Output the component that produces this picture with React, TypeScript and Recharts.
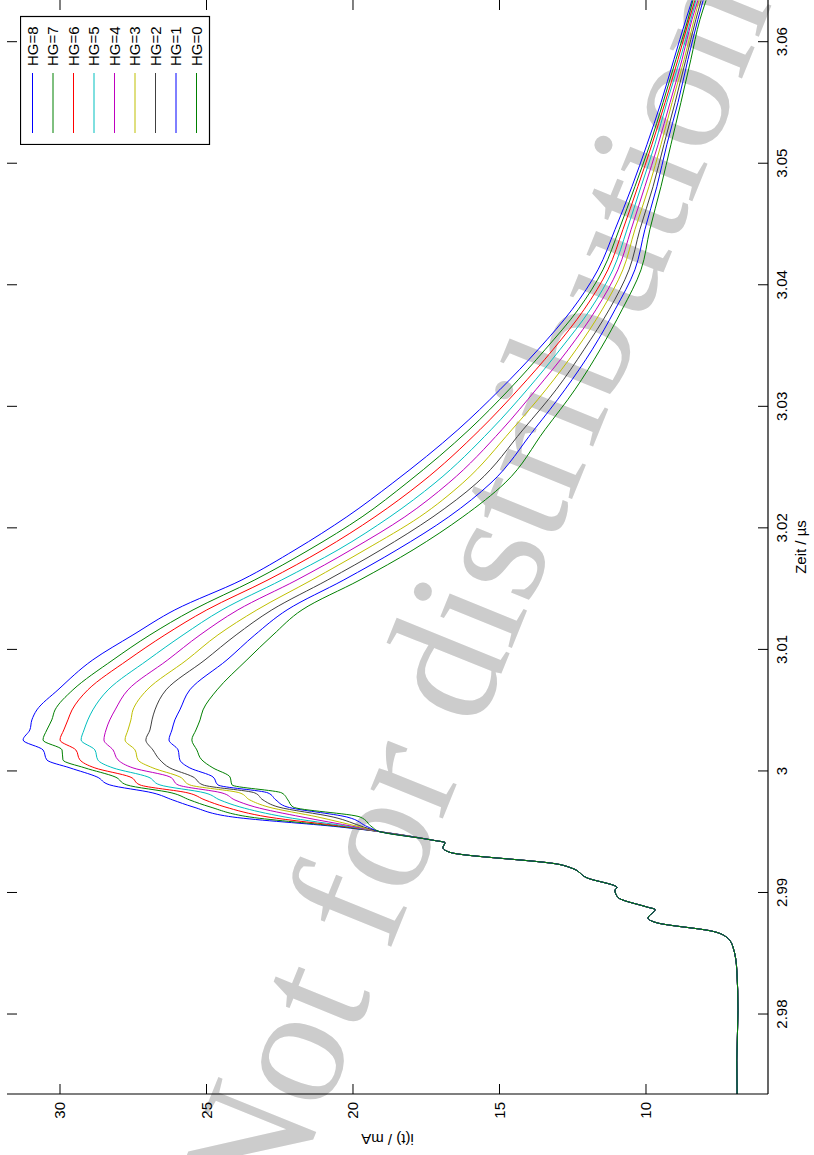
import React from "react";
import { LineChart, Line, XAxis, YAxis, Legend, Label } from "recharts";

// the plot is drawn landscape and then turned a quarter turn, like the printed page
const W = 1155;
const H = 814;
const PLOT_TOP = 7;
const FONT = "'Liberation Sans', Arial, Helvetica, sans-serif";

const TIME_DOMAIN: [number, number] = [2.97342, 3.06343];
const CURRENT_DOMAIN: [number, number] = [5.836, 31.809];
const TIME_TICKS = [2.98, 2.99, 3.0, 3.01, 3.02, 3.03, 3.04, 3.05, 3.06];
const CURRENT_TICKS = [10, 15, 20, 25, 30];

// common part before the curves split (µs, mA)
const leadTime = [
  2.9734, 2.9762, 2.9803, 2.9836, 2.9855, 2.9863, 2.9868, 2.9875, 2.9879, 2.9886, 2.9888,
  2.9896, 2.9902, 2.9904, 2.9912, 2.992, 2.9923, 2.9933, 2.9937, 2.9941, 2.9943, 2.995,
];
const leadCurrent = [
  6.89, 6.9, 6.86, 6.9, 7.03, 7.24, 7.71, 9.62, 9.93, 9.69, 9.96,
  10.96, 11.06, 10.99, 12.01, 12.53, 12.94, 16.69, 16.93, 16.86, 17.27, 19.08,
];

// after the split
const time = [
  2.99539, 2.99621, 2.99704, 2.99761, 2.99819, 2.99885, 2.99951, 3.00025, 3.00091, 3.00173,
  3.00255, 3.00337, 3.0042, 3.00502, 3.00667, 3.00914, 3.01119, 3.01325, 3.01572, 3.01819,
  3.02091, 3.0237, 3.02807, 3.03136, 3.03465, 3.03794, 3.04123, 3.04453, 3.04807, 3.05152,
  3.05498, 3.05852, 3.06181, 3.0634,
];
const hg8 = [20.45, 24.1, 25.46, 26.15, 26.83, 28.3, 28.74, 29.66, 30.45, 30.58, 31.26, 31.03, 30.96, 30.79, 30.07, 28.88, 27.51, 26.08, 23.79, 21.98, 20.21, 18.64, 16.42, 14.99, 13.69, 12.53, 11.64, 11.06, 10.48, 9.97, 9.49, 9.05, 8.64, 8.43];
const hg7 = [20.31, 23.52, 24.88, 25.57, 26.18, 27.72, 28.12, 29.15, 29.9, 29.93, 30.58, 30.45, 30.28, 30.17, 29.56, 28.19, 26.93, 25.46, 23.35, 21.5, 19.69, 18.16, 16.04, 14.68, 13.45, 12.32, 11.47, 10.92, 10.38, 9.87, 9.42, 8.98, 8.57, 8.4];
const hg6 = [20.17, 22.9, 24.37, 25.05, 25.63, 27.27, 27.61, 28.81, 29.32, 29.46, 30.0, 29.87, 29.73, 29.59, 29.05, 27.68, 26.42, 24.99, 22.9, 21.03, 19.25, 17.68, 15.67, 14.37, 13.18, 12.12, 11.3, 10.79, 10.28, 9.8, 9.35, 8.91, 8.53, 8.33];
const hg5 = [20.04, 22.32, 23.86, 24.54, 25.05, 26.59, 27.0, 28.19, 28.71, 28.81, 29.28, 29.18, 29.05, 28.88, 28.36, 27.0, 25.8, 24.47, 22.43, 20.51, 18.74, 17.2, 15.29, 14.06, 12.94, 11.91, 11.13, 10.65, 10.17, 9.7, 9.29, 8.84, 8.47, 8.3];
const hg4 = [19.9, 21.74, 23.35, 24.03, 24.47, 25.97, 26.25, 27.51, 28.02, 28.19, 28.5, 28.43, 28.3, 28.12, 27.68, 26.32, 25.22, 23.93, 21.91, 20.07, 18.23, 16.73, 14.92, 13.76, 12.66, 11.71, 10.96, 10.51, 10.04, 9.59, 9.18, 8.77, 8.43, 8.23];
const hg3 = [19.76, 21.2, 22.9, 23.52, 23.86, 25.57, 25.91, 26.83, 27.34, 27.44, 27.78, 27.68, 27.58, 27.51, 27.03, 25.67, 24.61, 23.28, 21.4, 19.59, 17.72, 16.25, 14.58, 13.42, 12.39, 11.5, 10.79, 10.38, 9.9, 9.49, 9.11, 8.7, 8.36, 8.19];
const hg2 = [19.63, 20.68, 22.56, 23.07, 23.35, 25.12, 25.46, 26.25, 26.59, 26.83, 27.07, 26.93, 26.86, 26.76, 26.38, 25.05, 23.99, 22.77, 20.86, 19.05, 17.27, 15.77, 14.2, 13.07, 12.12, 11.26, 10.58, 10.21, 9.76, 9.39, 9.01, 8.64, 8.3, 8.12];
const hg1 = [19.49, 20.21, 22.25, 22.63, 22.9, 24.61, 24.78, 25.57, 25.91, 25.97, 26.28, 26.18, 26.08, 25.91, 25.57, 24.3, 23.35, 22.25, 20.31, 18.5, 16.73, 15.29, 13.82, 12.77, 11.84, 11.06, 10.38, 10.04, 9.63, 9.29, 8.91, 8.57, 8.23, 8.05];
const hg0 = [19.35, 19.76, 22.05, 22.22, 22.43, 24.13, 24.2, 24.78, 25.16, 25.33, 25.5, 25.36, 25.22, 25.12, 24.64, 23.62, 22.73, 21.74, 19.76, 17.95, 16.25, 14.81, 13.45, 12.43, 11.57, 10.82, 10.17, 9.87, 9.49, 9.15, 8.81, 8.47, 8.16, 7.95];

const SERIES = [
  { key: "hg8", name: "HG=8", color: "#0000ff", values: hg8 },
  { key: "hg7", name: "HG=7", color: "#008000", values: hg7 },
  { key: "hg6", name: "HG=6", color: "#ff0000", values: hg6 },
  { key: "hg5", name: "HG=5", color: "#00bfbf", values: hg5 },
  { key: "hg4", name: "HG=4", color: "#bf00bf", values: hg4 },
  { key: "hg3", name: "HG=3", color: "#bfbf00", values: hg3 },
  { key: "hg2", name: "HG=2", color: "#404040", values: hg2 },
  { key: "hg1", name: "HG=1", color: "#0000ff", values: hg1 },
  { key: "hg0", name: "HG=0", color: "#008000", values: hg0 },
];

const rows = [
  ...leadTime.map((t, k) => {
    const row: Record<string, number> = { t };
    SERIES.forEach((s) => (row[s.key] = leadCurrent[k]));
    return row;
  }),
  ...time.map((t, k) => {
    const row: Record<string, number> = { t };
    SERIES.forEach((s) => (row[s.key] = s.values[k]));
    return row;
  }),
];

const fmtTime = (v: number) => String(Number(v.toFixed(2)));
const frame = { stroke: "#000", strokeWidth: 1.2 };

// bottom axis: inward tick, mirrored tick on the opposite side, label below
function TimeTick({ x, y, payload }: any) {
  return (
    <g>
      <line x1={x} y1={y} x2={x} y2={y - 10} stroke="#000" />
      <line x1={x} y1={PLOT_TOP} x2={x} y2={PLOT_TOP + 10} stroke="#000" />
      <text x={x} y={y + 19} textAnchor="middle" fontSize={15} fontFamily={FONT} fill="#000">
        {fmtTime(payload.value)}
      </text>
    </g>
  );
}

function CurrentTick({ x, y, payload }: any) {
  return (
    <g>
      <line x1={x} y1={y} x2={x + 10} y2={y} stroke="#000" />
      <line x1={W} y1={y} x2={W - 10} y2={y} stroke="#000" />
      <text x={x - 8} y={y} dy="0.35em" textAnchor="end" fontSize={15} fontFamily={FONT} fill="#000">
        {payload.value}
      </text>
    </g>
  );
}

function LegendBox() {
  return (
    <svg width={130} height={191}>
      <rect x={0.5} y={0.5} width={128} height={189} fill="#fff" stroke="#000" strokeWidth={1.2} />
      {SERIES.map((s, k) => {
        const cy = 12.5 + k * 20.5;
        return (
          <g key={s.key}>
            <line x1={12} x2={72} y1={cy} y2={cy} stroke={s.color} />
            <text x={79} y={cy} dy="0.35em" fontSize={15} fontFamily={FONT} fill="#000">
              {s.name}
            </text>
          </g>
        );
      })}
    </svg>
  );
}

export default function App() {
  return (
    <div style={{ position: "absolute", left: 0, top: 0, width: H, height: W, overflow: "hidden", background: "#fff" }}>
      <svg width={H} height={W} style={{ position: "absolute", left: 0, top: 0 }}>
        <text
          x={277}
          y={1229}
          transform="rotate(-68 277 1229)"
          fontSize={170}
          fontFamily="'Liberation Serif', 'Times New Roman', serif"
          fill="#cccccc"
        >
          Not for distribution
        </text>
      </svg>
      <div
        style={{
          position: "absolute",
          left: 0,
          top: 0,
          width: W,
          height: H,
          transformOrigin: "0 0",
          transform: `translate(0px, ${W}px) rotate(-90deg)`,
        }}
      >
        <LineChart width={W} height={H} data={rows} margin={{ top: PLOT_TOP, right: 0, bottom: 0, left: 0 }}>
          <XAxis
            dataKey="t"
            type="number"
            domain={TIME_DOMAIN}
            ticks={TIME_TICKS}
            allowDataOverflow
            interval={0}
            height={46}
            tickSize={0}
            tickMargin={0}
            tickLine={false}
            axisLine={frame}
            tick={(p: any) => <TimeTick {...p} />}
          >
            <Label
              content={({ viewBox }: any) => (
                <text
                  x={viewBox.x + viewBox.width / 2}
                  y={viewBox.y + 38}
                  textAnchor="middle"
                  fontSize={15}
                  fontFamily={FONT}
                  fill="#000"
                >
                  Zeit / µs
                </text>
              )}
            />
          </XAxis>
          <XAxis
            xAxisId="top"
            orientation="top"
            dataKey="t"
            type="number"
            domain={TIME_DOMAIN}
            allowDataOverflow
            height={0}
            tick={false}
            tickLine={false}
            axisLine={frame}
          />
          <YAxis
            type="number"
            domain={CURRENT_DOMAIN}
            ticks={CURRENT_TICKS}
            allowDataOverflow
            interval={0}
            width={61}
            tickSize={0}
            tickMargin={0}
            tickLine={false}
            axisLine={frame}
            tick={(p: any) => <CurrentTick {...p} />}
          >
            <Label
              content={({ viewBox }: any) => {
                const cx = viewBox.x + 21;
                const cy = viewBox.y + viewBox.height / 2;
                return (
                  <text
                    x={cx}
                    y={cy}
                    transform={`rotate(-90 ${cx} ${cy})`}
                    textAnchor="middle"
                    fontSize={15}
                    fontFamily={FONT}
                    fill="#000"
                  >
                    i(t) / mA
                  </text>
                );
              }}
            />
          </YAxis>
          <Legend
            layout="vertical"
            align="center"
            verticalAlign="middle"
            content={() => <LegendBox />}
            wrapperStyle={{ position: "absolute", left: 1010, top: 20, width: 130, height: 191 }}
          />
          {SERIES.map((s) => (
            <Line
              key={s.key}
              dataKey={s.key}
              name={s.name}
              type="monotone"
              stroke={s.color}
              strokeWidth={1}
              dot={false}
              activeDot={false}
              isAnimationActive={false}
            />
          ))}
        </LineChart>
      </div>
    </div>
  );
}
